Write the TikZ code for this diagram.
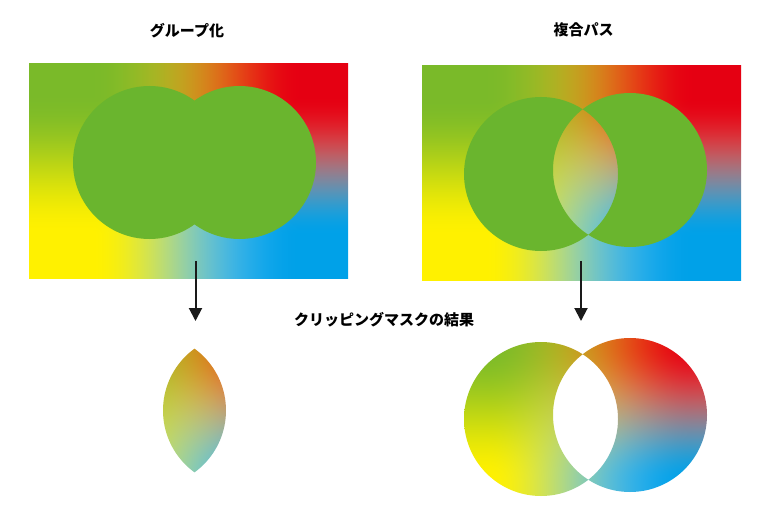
\documentclass[tikz,border=0pt]{standalone}
\usepackage{fontspec}
\newfontfamily\jp{Noto Sans CJK JP}
\usetikzlibrary{arrows.meta}
\definecolor{circgreen}{RGB}{106,181,46}
\definecolor{arrowcol}{RGB}{26,26,26}
\pgfdeclarefunctionalshading{rainbowmesh}{\pgfpointorigin}{\pgfpoint{320bp}{215bp}}{}{
  215 div 0.2 sub 0.65 div dup 0 lt {pop 0} if dup 1 gt {pop 1} if dup dup mul exch 2 mul 3 exch sub mul
  exch
  320 div 0.2 sub 0.65 div dup 0 lt {pop 0} if dup 1 gt {pop 1} if dup dup mul exch 2 mul 3 exch sub mul
  exch
  2 copy dup -0.52 mul exch 1.42 mul -1 add 3 -1 roll mul add 1 add
  2 index 2 index dup 1 exch sub mul 4 mul mul 0.2 mul add
  2 index 2 index exch dup 1 exch sub mul 4 mul mul 0.12 mul add
  3 1 roll
  2 copy dup -0.215 mul exch -0.415 mul -0.315 add 3 -1 roll mul add 0.945 add
  2 index 2 index exch dup 1 exch sub mul 4 mul mul 0.2 mul add
  2 index 2 index dup 1 exch sub mul 4 mul mul 0.13 mul add
  3 1 roll
  2 copy dup 0.16 mul exch -1.0 mul 0.91 add 3 -1 roll mul add 0 add
  3 1 roll
  1 exch sub exch dup 1 exch sub mul 4 mul mul 0.27 mul add
}
\tikzset{
  grad/.style={anchor=north west, inner sep=0pt, outer sep=0pt},
  title/.style={font=\jp\bfseries\fontsize{15bp}{18bp}\selectfont, text=black, inner sep=0pt},
  downarrow/.style={draw=arrowcol, line width=2bp, -{Triangle[width=13bp,length=13bp]}},
  greenfill/.style={fill=circgreen}
}
\begin{document}
\begin{tikzpicture}[x=1bp,y=-1bp]
\useasboundingbox (0,0) rectangle (768,507);
\fill[white] (0,0) rectangle (768,507);
% titles
\node[title] (t1) at (187,30.5) {グループ化};
\node[title] (t2) at (583.5,29.5) {複合パス};
\node[title] (t3) at (384,319.5) {クリッピングマスクの結果};
% top left: group
\node[grad] (g1) at (28,63) {\pgfuseshading{rainbowmesh}};
\fill[greenfill] (149.5,162.5) circle[radius=76.5bp] (239.5,162.5) circle[radius=76.5bp];
% top right: compound path
\node[grad] (g2) at (421,65) {\pgfuseshading{rainbowmesh}};
\fill[greenfill, even odd rule] (541,174) circle[radius=77bp] (630,170) circle[radius=77bp];
% bottom left: lens
\begin{scope}
  \clip (149.5,410.5) circle[radius=76.5bp];
  \clip (239.5,410.5) circle[radius=76.5bp];
  \node[grad] (g3) at (28,311) {\pgfuseshading{rainbowmesh}};
\end{scope}
% bottom right: two rings
\begin{scope}[even odd rule]
  \clip (541,419) circle[radius=77bp] (630,415) circle[radius=77bp];
  \node[grad] (g4) at (421,310) {\pgfuseshading{rainbowmesh}};
\end{scope}
% arrows
\coordinate (a1s) at (195.5,261);
\coordinate (a1e) at (195.5,321);
\coordinate (a2s) at (581,261);
\coordinate (a2e) at (581,321);
\draw[downarrow] (a1s) -- (a1e);
\draw[downarrow] (a2s) -- (a2e);
\end{tikzpicture}
\end{document}
